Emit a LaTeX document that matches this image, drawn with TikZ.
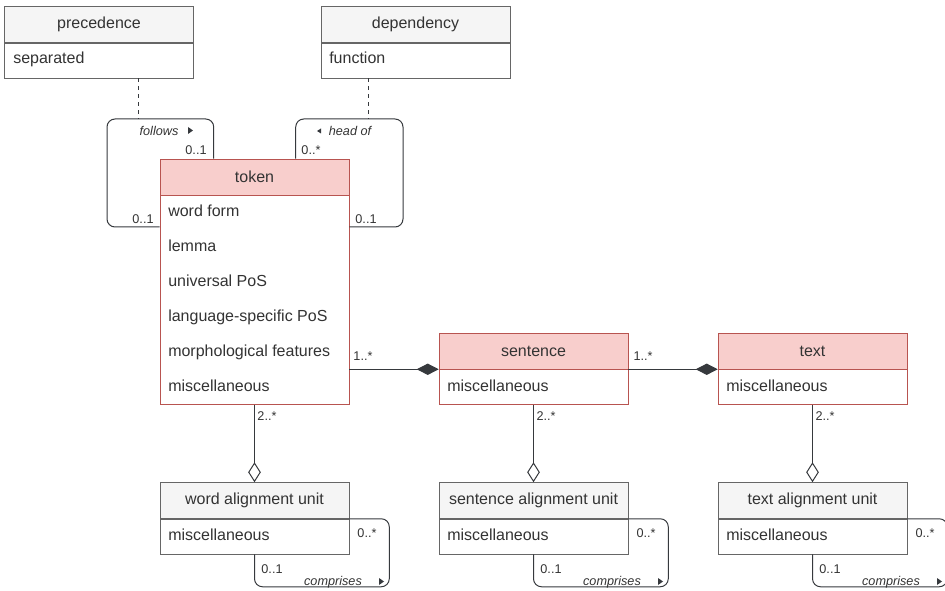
\documentclass[tikz,border=0pt]{standalone}
\usepackage{fontspec}
\setmainfont{Liberation Sans}
\usetikzlibrary{positioning,calc,arrows.meta}
\definecolor{inkgray}{HTML}{333333}
\definecolor{linegray}{HTML}{36393D}
\definecolor{headgray}{HTML}{F5F5F5}
\definecolor{boxgray}{HTML}{666666}
\definecolor{headpink}{HTML}{F8CECC}
\definecolor{boxred}{HTML}{B85450}
\tikzstyle{plainhead} = [draw=boxgray, fill=headgray, minimum width=141.75pt, minimum height=27pt, inner sep=0pt, text=inkgray, font=\fontsize{12}{14}\selectfont]
\tikzstyle{redhead} = [plainhead, draw=boxred, fill=headpink]
\tikzstyle{plainbody} = [draw=boxgray, fill=white, minimum width=141.75pt, minimum height=26.25pt, inner sep=0pt]
\tikzstyle{redbody} = [plainbody, draw=boxred]
\tikzstyle{attr} = [anchor=west, inner sep=0pt, text height=9pt, text depth=2.5pt, text=inkgray, font=\fontsize{12}{14}\selectfont]
\tikzstyle{mult} = [inner sep=0pt, text=inkgray, font=\fontsize{9.5}{11}\selectfont]
\tikzstyle{role} = [inner sep=0pt, text=inkgray, font=\fontsize{9.5}{11}\selectfont\itshape]
\tikzstyle{link} = [draw=linegray, line width=0.75pt, rounded corners=6pt]
\tikzstyle{compose} = [link, -{Diamond[length=16.5pt,width=8.5pt,fill=linegray]}]
\tikzstyle{aggregate} = [link, -{Diamond[open,length=15pt,width=9.5pt]}]

\begin{document}
\begin{tikzpicture}[x=0.75pt,y=-0.75pt]
\useasboundingbox (0,0) rectangle (945,591);
% classes
\node[plainhead] (prec) at (99,24.5) {precedence};
\node[plainbody, below=0pt of prec] (precbody) {};
\node[attr] (precsep) at (13,59.5) {separated};
\node[plainhead] (dep) at (415.5,24.5) {dependency};
\node[plainbody, below=0pt of dep] (depbody) {};
\node[attr] (depfun) at (329,59.5) {function};

\node[redhead] (tok) at (254.5,177) {token};
\node[redbody, below=0pt of tok, minimum height=156.75pt] (tokbody) {};
\node[attr] (tokform) at (168,212) {word form};
\node[attr] (toklem) at (168,247) {lemma};
\node[attr] (tokupos) at (168,282) {universal PoS};
\node[attr] (tokxpos) at (168,317) {language-specific PoS};
\node[attr] (tokfeat) at (168,352) {morphological features};
\node[attr] (tokmisc) at (168,387) {miscellaneous};

\node[redhead] (sent) at (533.5,351) {sentence};
\node[redbody, below=0pt of sent] (sentbody) {};
\node[attr] (sentmisc) at (447,387) {miscellaneous};
\node[redhead] (txt) at (812.5,351) {text};
\node[redbody, below=0pt of txt] (txtbody) {};
\node[attr] (txtmisc) at (726,387) {miscellaneous};

\node[plainhead] (wal) at (254.5,500.5) {word alignment unit};
\node[plainbody, below=0pt of wal] (walbody) {};
\node[attr] (walmisc) at (168,536) {miscellaneous};
\node[plainhead] (sal) at (533.5,500.5) {sentence alignment unit};
\node[plainbody, below=0pt of sal] (salbody) {};
\node[attr] (salmisc) at (447,536) {miscellaneous};
\node[plainhead] (tal) at (812.5,500.5) {text alignment unit};
\node[plainbody, below=0pt of tal] (talbody) {};
\node[attr] (talmisc) at (726,536) {miscellaneous};

% self loops on token
\coordinate (folmid) at (138,119);
\coordinate (headmid) at (368,119);
\draw[link] ($(tok.north west)+(54,0)$) |- (folmid) -| (107,227) -- (tokbody.west |- 0,227);
\draw[link] ($(tok.north west)+(136,0)$) |- (headmid) -| (403,227) -- (tokbody.east |- 0,227);
\draw[link, rounded corners=0pt, dash pattern=on 3pt off 3pt] (precbody.south -| folmid) -- (folmid);
\draw[link, rounded corners=0pt, dash pattern=on 3pt off 3pt] (depbody.south -| headmid) -- (headmid);
\node[role] (follows) at (159,131) {follows};
\fill[linegray] (188,127) -- (193,130.5) -- (188,134) -- cycle;
\node[role] (headof) at (350,131) {head of};
\fill[linegray] (321,128.5) -- (317,131) -- (321,133.5) -- cycle;
\node[mult] (m1) at (196,150) {0..1};
\node[mult] (m2) at (143,219) {0..1};
\node[mult] (m3) at (311,150) {0..*};
\node[mult] (m4) at (366,219) {0..1};

% composition
\draw[compose] (sent.south west -| tokbody.east) -- (sent.south west);
\draw[compose] (sent.south east) -- (txt.south west);
\node[mult] (m5) at (363,356) {1..*};
\node[mult] (m6) at (643,356) {1..*};

% aggregation
\draw[aggregate] (tokbody.south) -- (wal.north);
\draw[aggregate] (sentbody.south) -- (sal.north);
\draw[aggregate] (txtbody.south) -- (tal.north);
\node[mult] (m7) at (267,416) {2..*};
\node[mult] (m8) at (546,416) {2..*};
\node[mult] (m9) at (825,416) {2..*};

% self loops on alignment units
\foreach \u/\dx in {wal/0,sal/279,tal/558} {
  \draw[link] (\u.south east) -- ++(40,0) -- ++(0,68) -| (\u body.south);
  \node[mult] at (367+\dx,533) {0..*};
  \node[mult] at (272+\dx,569) {0..1};
  \node[role] at (333+\dx,582) {comprises};
  \fill[linegray] (379+\dx,578) -- (384+\dx,581.5) -- (379+\dx,585) -- cycle;
}
\end{tikzpicture}
\end{document}
